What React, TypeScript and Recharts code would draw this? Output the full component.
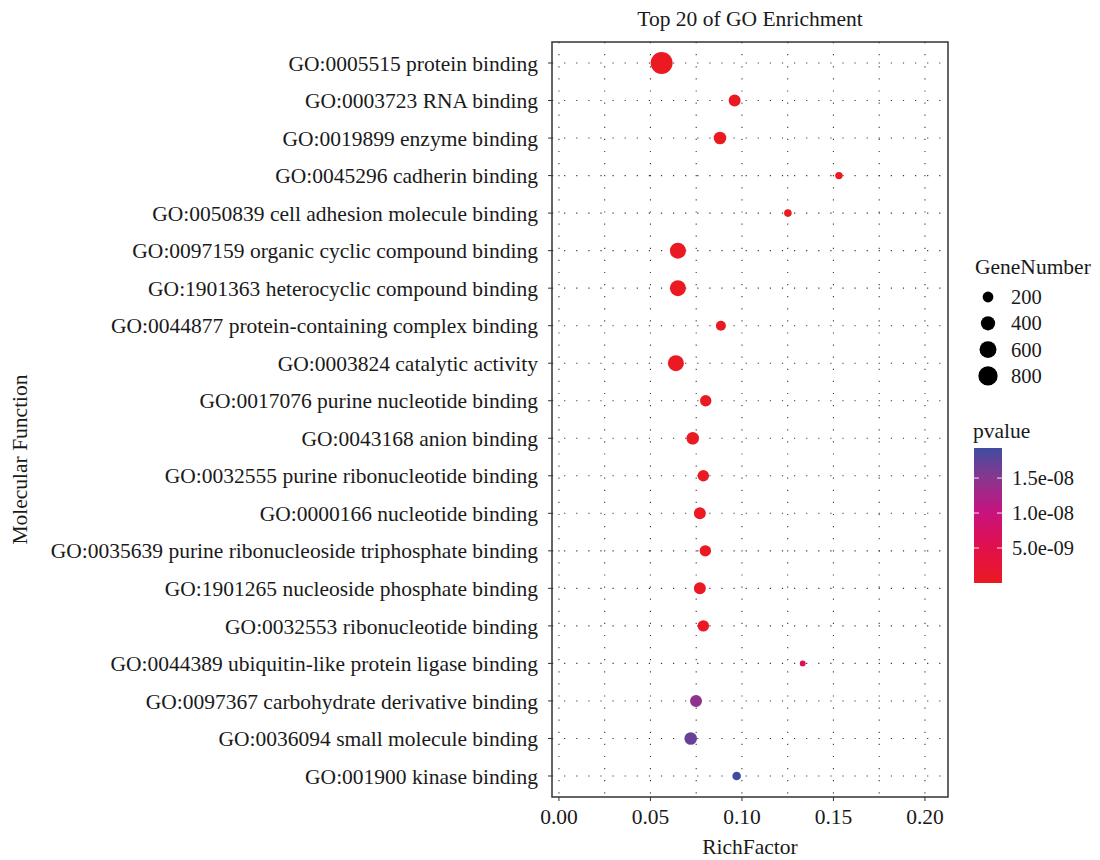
import { ScatterChart, Scatter, XAxis, YAxis, ZAxis, CartesianGrid, ReferenceArea, Cell, Legend } from 'recharts'

const terms = [
    'GO:0005515 protein binding',
    'GO:0003723 RNA binding',
    'GO:0019899 enzyme binding',
    'GO:0045296 cadherin binding',
    'GO:0050839 cell adhesion molecule binding',
    'GO:0097159 organic cyclic compound binding',
    'GO:1901363 heterocyclic compound binding',
    'GO:0044877 protein-containing complex binding',
    'GO:0003824 catalytic activity',
    'GO:0017076 purine nucleotide binding',
    'GO:0043168 anion binding',
    'GO:0032555 purine ribonucleotide binding',
    'GO:0000166 nucleotide binding',
    'GO:0035639 purine ribonucleoside triphosphate binding',
    'GO:1901265 nucleoside phosphate binding',
    'GO:0032553 ribonucleotide binding',
    'GO:0044389 ubiquitin-like protein ligase binding',
    'GO:0097367 carbohydrate derivative binding',
    'GO:0036094 small molecule binding',
    'GO:001900 kinase binding',
]

const richFactor = [
    0.0561, 0.096, 0.088, 0.153, 0.1251, 0.065, 0.065, 0.0885, 0.0639, 0.0802,
    0.0731, 0.0789, 0.077, 0.08, 0.077, 0.0789, 0.1332, 0.0749, 0.072, 0.0971,
]

const geneNumber = [
    1060, 266, 300, 58, 65, 528, 528, 164, 528, 234,
    301, 234, 266, 234, 266, 234, 10, 266, 301, 103,
]

const pValue = [
    3.1e-64, 2.2e-31, 6.5e-29, 1.1e-18, 4.7e-14, 8.9e-38, 1.3e-37, 2.6e-15, 5.4e-25, 7.2e-16,
    3.3e-16, 1.8e-15, 9.1e-15, 2.4e-14, 6.0e-14, 8.3e-14, 5.6e-9, 1.46e-8, 1.7e-8, 1.93e-8,
]

const xTicks = [0, 0.05, 0.1, 0.15, 0.2]
const xGrid = [0, 0.025, 0.05, 0.075, 0.1, 0.125, 0.15, 0.175, 0.2]
const sizeBreaks = [200, 400, 600, 800]
const pBreaks = [1.5e-8, 1.0e-8, 5.0e-9]

const rank = terms.map((_, i) => i + 1)
const rows = terms.map((term, i) => ({
    term,
    rank: rank[i],
    richFactor: richFactor[i],
    geneNumber: geneNumber[i],
    pValue: pValue[i],
}))

const SERIF = "'Liberation Serif', 'Times New Roman', serif"
const INK = '#1a1a1a'
const TEXT_SIZE = 21.5
const KEY_SIZE = 20.5
const X_DOMAIN: [number, number] = [-0.0038, 0.2126]
const Y_DOMAIN: [number, number] = [0.44, 20.56]
const Z_DOMAIN: [number, number] = [0, 1200]
// symbol area grows linearly with gene count
const AREA_RANGE: [number, number] = [Math.PI * 7.5, Math.PI * (7.5 + 0.107 * 1200)]

const radiusFor = (n: number) => {
    const t = (n - Z_DOMAIN[0]) / (Z_DOMAIN[1] - Z_DOMAIN[0])
    return Math.sqrt((AREA_RANGE[0] + t * (AREA_RANGE[1] - AREA_RANGE[0])) / Math.PI)
}

// red -> magenta -> blue, low p at the red end
const STOPS: [number, string][] = [
    [0, '#eb1922'],
    [0.26, '#e2104b'],
    [0.52, '#c8127f'],
    [0.78, '#88368f'],
    [1, '#3f4da0'],
]
const P_MIN = Math.min(...pValue)
const P_MAX = Math.max(...pValue)
const pFrac = (p: number) => (p - P_MIN) / (P_MAX - P_MIN)

const hex = (c: string) => [1, 3, 5].map((k) => parseInt(c.slice(k, k + 2), 16))
const colorFor = (p: number) => {
    const t = Math.min(1, Math.max(0, pFrac(p)))
    for (let i = 1; i < STOPS.length; i++) {
        const [t0, c0] = STOPS[i - 1]
        const [t1, c1] = STOPS[i]
        if (t <= t1) {
            const u = (t - t0) / (t1 - t0)
            const a = hex(c0)
            const b = hex(c1)
            const rgb = a.map((v, k) => Math.round(v + (b[k] - v) * u))
            return `rgb(${rgb.join(',')})`
        }
    }
    return STOPS[STOPS.length - 1][1]
}

const fmtP = (p: number) => p.toExponential(1).replace(/e-(\d)$/, 'e-0$1')

// size key and colour bar on the right
const GeneLegend = () => {
    const barTop = 198
    const barH = 135
    return (
        <svg width={134} height={350} style={{ display: 'block', fontFamily: SERIF }}>
            <defs>
                <linearGradient id="pgrad" x1="0" y1="1" x2="0" y2="0">
                    {STOPS.map(([t, c]) => (
                        <stop key={t} offset={t} stopColor={c} />
                    ))}
                </linearGradient>
            </defs>
            <text x={9} y={24} fontSize={TEXT_SIZE} fill={INK}>GeneNumber</text>
            {sizeBreaks.map((n, i) => {
                const cy = 47 + i * 26.3
                return (
                    <g key={n}>
                        <circle cx={22} cy={cy} r={radiusFor(n)} fill="#000" />
                        <text x={45} y={cy} fontSize={KEY_SIZE} fill={INK} dominantBaseline="central">{n}</text>
                    </g>
                )
            })}
            <text x={7} y={188} fontSize={TEXT_SIZE} fill={INK}>pvalue</text>
            <rect x={8} y={barTop} width={28} height={barH} fill="url(#pgrad)" />
            {pBreaks.map((p) => {
                const y = barTop + barH * (1 - pFrac(p))
                return (
                    <g key={p}>
                        <line x1={8} x2={13} y1={y} y2={y} stroke="rgba(255,255,255,0.75)" strokeWidth={1.2} />
                        <line x1={31} x2={36} y1={y} y2={y} stroke="rgba(255,255,255,0.75)" strokeWidth={1.2} />
                        <text x={46} y={y} fontSize={KEY_SIZE} fill={INK} dominantBaseline="central">{fmtP(p)}</text>
                    </g>
                )
            })}
        </svg>
    )
}

const YTitle = ({ viewBox }: { viewBox?: { x: number; y: number; width: number; height: number } }) => {
    if (!viewBox) return null
    const cx = viewBox.x + 20
    const cy = viewBox.y + viewBox.height / 2 + 40
    return (
        <text x={cx} y={cy} transform={`rotate(-90 ${cx} ${cy})`} textAnchor="middle" dominantBaseline="central" fontSize={TEXT_SIZE} fill={INK}>
            Molecular Function
        </text>
    )
}

export default function App() {
    return (
        <div style={{ position: 'absolute', left: 0, top: 0, width: 1100, height: 860, background: '#fff', fontFamily: SERIF }}>
            <ScatterChart width={1100} height={860} margin={{ top: 42, right: 152, bottom: 0, left: 0 }}>
                <CartesianGrid
                    stroke="#3a3a3a"
                    strokeWidth={1.1}
                    strokeDasharray="1.2 10.9"
                    verticalValues={xGrid}
                    horizontalValues={rank}
                />
                <XAxis
                    type="number"
                    dataKey="richFactor"
                    domain={X_DOMAIN}
                    ticks={xTicks}
                    interval={0}
                    allowDataOverflow
                    tickFormatter={(v: number) => v.toFixed(2)}
                    height={63}
                    tickSize={4}
                    tickMargin={8}
                    axisLine={false}
                    tickLine={{ stroke: '#333' }}
                    tick={{ fill: INK, fontSize: TEXT_SIZE }}
                    label={{ value: 'RichFactor', position: 'insideBottom', offset: 6, fill: INK, fontSize: TEXT_SIZE }}
                />
                <YAxis
                    type="number"
                    dataKey="rank"
                    domain={Y_DOMAIN}
                    reversed
                    ticks={rank}
                    interval={0}
                    allowDataOverflow
                    tickFormatter={(v: number) => terms[v - 1]}
                    width={552}
                    tickSize={4}
                    tickMargin={10}
                    axisLine={false}
                    tickLine={{ stroke: '#333' }}
                    tick={{ fill: INK, fontSize: TEXT_SIZE }}
                    label={<YTitle />}
                />
                <ZAxis type="number" dataKey="geneNumber" domain={Z_DOMAIN} range={AREA_RANGE} />
                <ReferenceArea
                    x1={X_DOMAIN[0]}
                    x2={X_DOMAIN[1]}
                    y1={Y_DOMAIN[0]}
                    y2={Y_DOMAIN[1]}
                    ifOverflow="visible"
                    fill="none"
                    fillOpacity={0}
                    stroke="#333"
                    strokeWidth={1.5}
                    label={{ value: 'Top 20 of GO Enrichment', position: 'top', offset: 16, fill: INK, fontSize: TEXT_SIZE }}
                />
                <Scatter data={rows} isAnimationActive={false}>
                    {rows.map((r) => (
                        <Cell key={r.term} fill={colorFor(r.pValue)} />
                    ))}
                </Scatter>
                <Legend
                    content={<GeneLegend />}
                    layout="horizontal"
                    verticalAlign="middle"
                    align="center"
                    wrapperStyle={{ left: 966, top: 250, width: 134, height: 350 }}
                />
            </ScatterChart>
        </div>
    )
}
